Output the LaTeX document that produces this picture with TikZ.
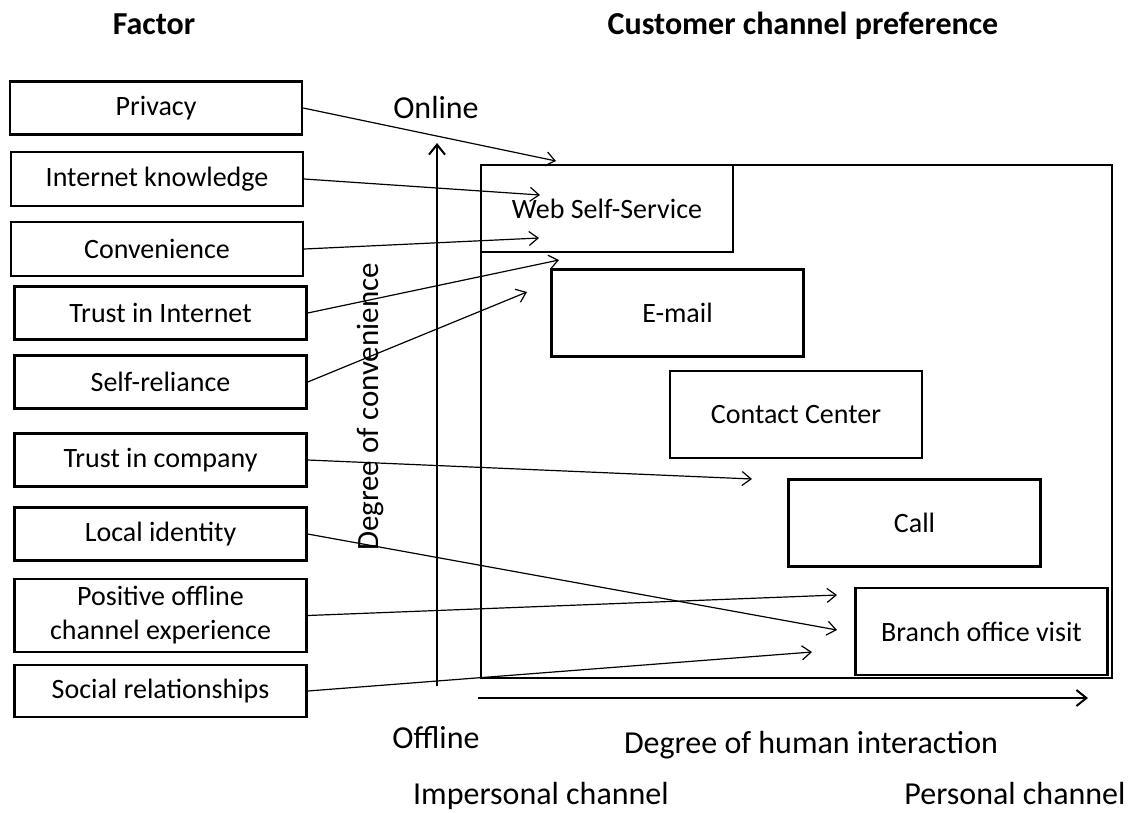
\documentclass[tikz,border=0pt]{standalone}
\usepackage{fontspec}
\setmainfont{Carlito}
\usetikzlibrary{arrows.meta}
\begin{document}
\begin{tikzpicture}[x=1pt,y=-1pt,
  factor/.style={draw, line width=2.4pt, minimum width=292pt, minimum height=53pt,
    inner sep=0pt, align=center, font=\fontsize{28}{34}\selectfont},
  channel/.style={draw, line width=2.4pt, minimum width=252pt, minimum height=87pt,
    inner sep=0pt, font=\fontsize{28}{34}\selectfont},
  frame/.style={draw, line width=2.4pt, minimum width=631pt, minimum height=513pt, inner sep=0pt},
  link/.style={line width=1.2pt, -{Straight Barb[length=9pt,width=14pt,line width=1.2pt]}},
  axis/.style={line width=2pt, -{Straight Barb[length=10pt,width=16pt,line width=2pt]}},
  label/.style={font=\fontsize{32}{38}\selectfont, inner sep=0pt},
  head/.style={font=\bfseries\fontsize{32}{38}\selectfont, inner sep=0pt}]
\useasboundingbox (0,0) rectangle (1129,812);

% column headings
\node[head, anchor=base] (hfactor) at (154,34) {Factor};
\node[head, anchor=base] (hpref) at (803,34) {Customer channel preference};

% factors
\node[factor] (privacy)  at (156,108)   {Privacy};
\node[factor, minimum height=54pt] (internet) at (157,179) {Internet knowledge};
\node[factor, minimum height=54pt] (conv)     at (157,249) {Convenience};
\node[factor] (trustnet) at (160.5,313) {Trust in Internet};
\node[factor] (selfrel)  at (160.5,382) {Self-reliance};
\node[factor] (trustco)  at (160.5,460) {Trust in company};
\node[factor] (localid)  at (160.5,534) {Local identity};
\node[factor, minimum height=73pt] (posoff) at (160.5,615.5) {Positive offline\\channel experience};
\node[factor, minimum height=52pt] (social)   at (160.5,691) {Social relationships};

% channel space
\node[frame] (pref) at (796.5,421.5) {};
\node[channel] (web)     at (607,208.5)   {Web Self-Service};
\node[channel] (email)   at (677.5,313)   {E-mail};
\node[channel] (contact) at (796,414.5)   {Contact Center};
\node[channel] (call)    at (914.5,523)   {Call};
\node[channel] (branch)  at (981.5,631.5) {Branch office visit};

% axes
\coordinate (vlow)  at (437,686);
\coordinate (vhigh) at (437,143);
\coordinate (hlow)  at (478,698);
\coordinate (hhigh) at (1088,698);
\draw[axis] (vlow) -- (vhigh);
\draw[axis] (hlow) -- (hhigh);

\node[label, anchor=base] (online)  at (436,118) {Online};
\node[label, anchor=base] (offline) at (436,748) {Offline};
\node[label, font=\fontsize{31}{36}\selectfont, rotate=90] (convaxis) at (370,407) {Degree of convenience};
\node[label, anchor=base] (humaxis) at (811,753) {Degree of human interaction};
\node[label, anchor=base] (imp) at (541,804) {Impersonal channel};
\node[label, anchor=base] (pers) at (1015,804) {Personal channel};

% arrow targets
\coordinate (tprivacy)  at (556,161);
\coordinate (tinternet) at (540,195);
\coordinate (tconv)     at (539,238);
\coordinate (ttrustnet) at (559,260);
\coordinate (tselfrel)  at (527,292);
\coordinate (ttrustco)  at (752,479);
\coordinate (tlocalid)  at (837,630);
\coordinate (tposoff)   at (837,595);
\coordinate (tsocial)   at (812,652);

\draw[link] (privacy.east)  -- (tprivacy);
\draw[link] (internet.east) -- (tinternet);
\draw[link] (conv.east)     -- (tconv);
\draw[link] (trustnet.east) -- (ttrustnet);
\draw[link] (selfrel.east)  -- (tselfrel);
\draw[link] (trustco.east)  -- (ttrustco);
\draw[link] (localid.east)  -- (tlocalid);
\draw[link] (posoff.east)   -- (tposoff);
\draw[link] (social.east)   -- (tsocial);
\end{tikzpicture}
\end{document}
